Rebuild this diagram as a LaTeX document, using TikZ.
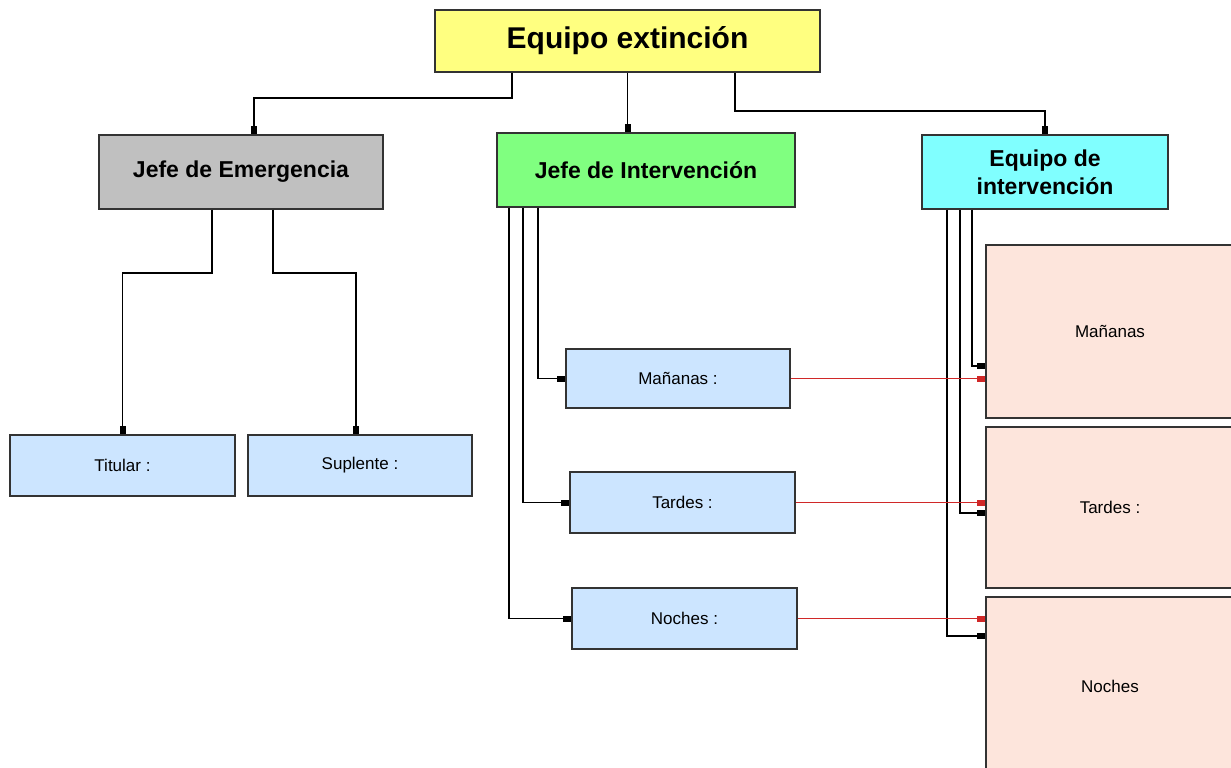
\documentclass[tikz,border=0pt]{standalone}
\usepackage{fontspec}
\setmainfont{Liberation Sans}
\usetikzlibrary{arrows.meta,calc}
\definecolor{cTop}  {HTML}{FFFF80}
\definecolor{cJefe} {HTML}{C0C0C0}
\definecolor{cInt}  {HTML}{80FF80}
\definecolor{cEq}   {HTML}{80FFFF}
\definecolor{cTurno}{HTML}{CCE5FF}
\definecolor{cRes}  {HTML}{FDE5DC}
\definecolor{cLine} {HTML}{333333}
\definecolor{cRed}  {HTML}{D02828}

\begin{document}
\begin{tikzpicture}[
  x=0.5pt, y=-0.5pt,
  box/.style={
    draw=cLine, line width=0.7pt, align=center, inner sep=2pt},
  top/.style  ={box, fill=cTop, font=\fontsize{15}{17}\selectfont\bfseries,
                minimum width=192.5pt, minimum height=31pt},
  head/.style ={box, font=\fontsize{11.5}{14}\selectfont\bfseries,
                minimum height=37pt},
  turno/.style={box, fill=cTurno, font=\fontsize{8.5}{10}\selectfont,
                minimum width=112.5pt, minimum height=30.5pt},
  res/.style  ={box, fill=cRes, font=\fontsize{8.5}{10}\selectfont,
                minimum width=124pt},
  ar/.style   ={-{Square[length=4pt,width=3pt]}, draw=black, line width=0.8pt},
  arr/.style  ={ar, draw=cRed, -{Square[length=4pt,width=3pt,color=cRed]}},
]
\useasboundingbox (0,0) rectangle (1231,767);

% ---------------------------------------------------------------- top
\node[top] (ext) at (627.5,41) {Equipo extinción};

% ---------------------------------------------------------------- heads
\node[head, fill=cJefe, minimum width=142pt] (jemer) at (241,172) {Jefe de Emergencia};
\node[head, fill=cInt,  minimum width=149pt] (jint)  at (646,170) {Jefe de Intervención};
\node[head, fill=cEq,   minimum width=123pt] (eint)  at (1045,172) {Equipo de\\intervención};

% ---------------------------------------------------------------- titular / suplente
\node[turno] (tit) at (122.5,465.5) {Titular :};
\node[turno, minimum width=112pt] (sup) at (360,465.5) {Suplente :};

% ---------------------------------------------------------------- turnos jefe
\node[turno, minimum width=112pt, minimum height=29.5pt] (jman) at (678,378.5) {Mañanas :};
\node[turno] (jtar) at (682.5,502.5) {Tardes :};
\node[turno] (jnoc) at (684.5,618.5) {Noches :};

% ---------------------------------------------------------------- turnos equipo
\node[res, minimum height=86.5pt] (eman) at (1110,331.5) {Mañanas};
\node[res, minimum height=80.5pt] (etar) at (1110,507.5) {Tardes :};
\node[res, minimum height=89pt]   (enoc) at (1110,686)   {Noches};

% ---------------------------------------------------------------- arrows
\draw[ar] ($(ext.south)+(-115.5,0)$) -- ++(0,25) -| ($(jemer.north)+(13,0)$);
\draw[ar] (ext.south) -- (ext.south |- jint.north);
\draw[ar] ($(ext.south)+(107.5,0)$) -- ++(0,38) -| (eint.north);

\draw[ar] ($(jemer.south)+(-29,0)$) -- ++(0,63) -| (tit.north);
\draw[ar] ($(jemer.south)+(32,0)$)  -- ++(0,63) -| ($(sup.north)+(-4,0)$);

\draw[ar] ($(jint.south)+(-108,0)$) |- (jman.west);
\draw[ar] ($(jint.south)+(-123,0)$) |- (jtar.west);
\draw[ar] ($(jint.south)+(-137,0)$) |- (jnoc.west);

\draw[ar] ($(eint.south)+(-73,0)$) |- ($(eman.west)+(0,34.5)$);
\draw[ar] ($(eint.south)+(-85,0)$) |- ($(etar.west)+(0,5.5)$);
\draw[ar] ($(eint.south)+(-98,0)$) |- ($(enoc.west)+(0,-50)$);

% red links between the two shift tables
\draw[arr] (jman.east) -- (eman.west |- jman.east);
\draw[arr] (jtar.east) -- (etar.west |- jtar.east);
\draw[arr] (jnoc.east) -- (enoc.west |- jnoc.east);

\end{tikzpicture}
\end{document}
